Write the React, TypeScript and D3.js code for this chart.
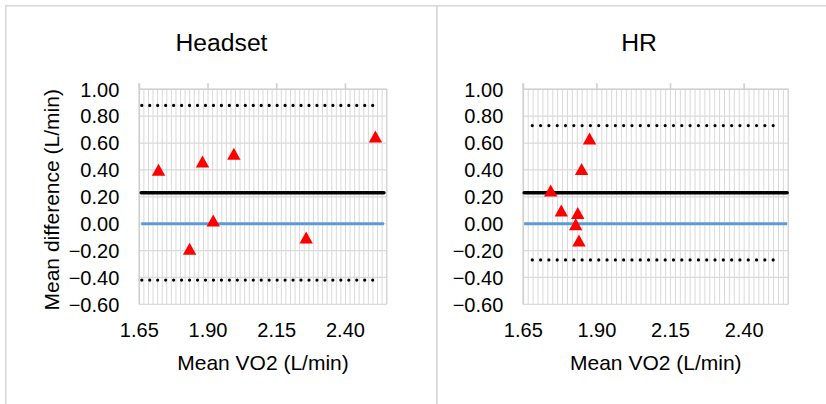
import React from "react";
import * as d3 from "d3";

// ---- data ----
const xTicks = [1.65, 1.9, 2.15, 2.4];
const yTicks = [1.0, 0.8, 0.6, 0.4, 0.2, 0.0, -0.2, -0.4, -0.6];
const xDomain = [1.65, 2.55];
const yDomain = [-0.6, 1.0];

const headsetX = [1.72, 1.833, 1.88, 1.919, 1.994, 2.257, 2.509];
const headsetY = [0.4, -0.188, 0.461, 0.022, 0.519, -0.104, 0.647];
const headsetStats = [0.23, 0.88, -0.42]; // mean, upper LoA, lower LoA
const headsetLineX = [1.657, 2.54];
const headsetDotX = [1.659, 2.528];

const hrX = [1.743, 1.779, 1.835, 1.828, 1.839, 1.848, 1.875];
const hrY = [0.245, 0.096, 0.078, -0.006, -0.126, 0.405, 0.632];
const hrStats = [0.23, 0.73, -0.27];
const hrLineX = [1.653, 2.546];
const hrDotX = [1.6805, 2.5268];

const titles = ["Headset", "HR"];
const xTitle = "Mean VO2 (L/min)";
const yTitle = "Mean difference (L/min)";

const FONT = "'Liberation Sans', Arial, sans-serif";
const GRID = "#d9d9d9";

type PanelProps = {
  title: string;
  xs: number[];
  ys: number[];
  stats: number[];
  lineX: number[];
  dotX: number[];
  left: number;
  right: number;
  chartLeft: number;
  chartRight: number;
  showYTitle: boolean;
};

const TRI = "M0,-6.2L6.7,5.8L-6.7,5.8Z";

function Panel(p: PanelProps) {
  const top = 89.3;
  const bottom = 304.3;
  const x = d3.scaleLinear().domain(xDomain).range([p.left, p.right]);
  const y = d3.scaleLinear().domain(yDomain).range([bottom, top]);
  const minorStep = 0.25 / 15;
  const nMinor = Math.round((xDomain[1] - xDomain[0]) / minorStep);
  const minors = d3.range(nMinor + 1).map((i) => xDomain[0] + i * minorStep);
  const [mean, up, lo] = p.stats;
  const dotLen = x(p.dotX[1]) - x(p.dotX[0]);
  const dotGap = dotLen / 30;
  const line = d3.line<[number, number]>().x((d) => x(d[0])).y((d) => y(d[1]));
  const cx = (p.chartLeft + p.chartRight) / 2;
  return (
    <g>
      <text x={cx} y={51} textAnchor="middle" fontSize={24.7} fontFamily={FONT} fill="#000">
        {p.title}
      </text>
      {/* minor vertical gridlines */}
      {minors.map((v, i) => (
        <line key={"mv" + i} x1={x(v)} x2={x(v)} y1={top} y2={bottom} stroke={GRID} strokeWidth={1} />
      ))}
      {/* horizontal gridlines */}
      {yTicks.map((v, i) => (
        <line key={"h" + i} x1={p.left} x2={p.right} y1={y(v)} y2={y(v)} stroke={GRID} strokeWidth={1.3} />
      ))}
      {/* axis lines & ticks */}
      <line x1={p.left} x2={p.right} y1={top} y2={top} stroke="#cfcfcf" strokeWidth={1.6} />
      <line x1={p.left} x2={p.left} y1={top - 6} y2={bottom} stroke="#cfcfcf" strokeWidth={1.6} />
      <line x1={p.right} x2={p.right} y1={top} y2={bottom} stroke="#d4d4d4" strokeWidth={1.3} />
      {xTicks.map((v, i) => (
        <line key={"t" + i} x1={x(v)} x2={x(v)} y1={top - 6} y2={top} stroke="#cfcfcf" strokeWidth={1.6} />
      ))}
      {/* tick labels */}
      {yTicks.map((v, i) => (
        <text key={"yl" + i} x={p.left - 20} y={y(v)} dy="0.36em" textAnchor="end" fontSize={20} fontFamily={FONT} fill="#000">
          {d3.format(".2f")(v)}
        </text>
      ))}
      {xTicks.map((v, i) => (
        <text key={"xl" + i} x={x(v)} y={337} textAnchor="middle" fontSize={20} fontFamily={FONT} fill="#000">
          {d3.format(".2f")(v)}
        </text>
      ))}
      <text x={(p.left + p.right) / 2} y={370} textAnchor="middle" fontSize={21} fontFamily={FONT} fill="#000">
        {xTitle}
      </text>
      {p.showYTitle && (
        <text
          transform={`translate(59.3, ${(top + bottom) / 2 + 3}) rotate(-90)`}
          textAnchor="middle"
          fontSize={21}
          fontFamily={FONT}
          fill="#000"
        >
          {yTitle}
        </text>
      )}
      {/* zero line */}
      <path d={line([[p.lineX[0], 0], [p.lineX[1], 0]]) || ""} stroke="#5b9bd5" strokeWidth={3} fill="none" />
      {/* mean line */}
      <path d={line([[p.lineX[0], mean], [p.lineX[1], mean]]) || ""} stroke="#000" strokeWidth={3.5} fill="none" strokeLinecap="round" />
      {/* limits of agreement */}
      {[up, lo].map((v, i) => (
        <path
          key={"loa" + i}
          d={line([[p.dotX[0], v], [p.dotX[1], v]]) || ""}
          stroke="#000"
          strokeWidth={3.2}
          strokeLinecap="round"
          strokeDasharray={`0.01 ${dotGap - 0.01}`}
          fill="none"
        />
      ))}
      {/* points */}
      {p.xs.map((v, i) => (
        <path key={"pt" + i} d={TRI} transform={`translate(${x(v)},${y(p.ys[i])})`} fill="#ff0000" />
      ))}
    </g>
  );
}

export default function App() {
  return (
    <svg width={826} height={404} style={{ position: "absolute", left: 0, top: 0, background: "#fff" }}>
      <rect x={0} y={0} width={826} height={404} fill="#fff" />
      <rect x={5.75} y={5.75} width={431} height={500} fill="none" stroke="#d9d9d9" strokeWidth={1.6} />
      <rect x={436.75} y={5.75} width={500} height={500} fill="none" stroke="#d9d9d9" strokeWidth={1.6} />
      <Panel
        title={titles[0]}
        xs={headsetX}
        ys={headsetY}
        stats={headsetStats}
        lineX={headsetLineX}
        dotX={headsetDotX}
        left={139.3}
        right={386.7}
        chartLeft={6}
        chartRight={437}
        showYTitle={true}
      />
      <Panel
        title={titles[1]}
        xs={hrX}
        ys={hrY}
        stats={hrStats}
        lineX={hrLineX}
        dotX={hrDotX}
        left={523.3}
        right={788.3}
        chartLeft={437}
        chartRight={841}
        showYTitle={false}
      />
    </svg>
  );
}
